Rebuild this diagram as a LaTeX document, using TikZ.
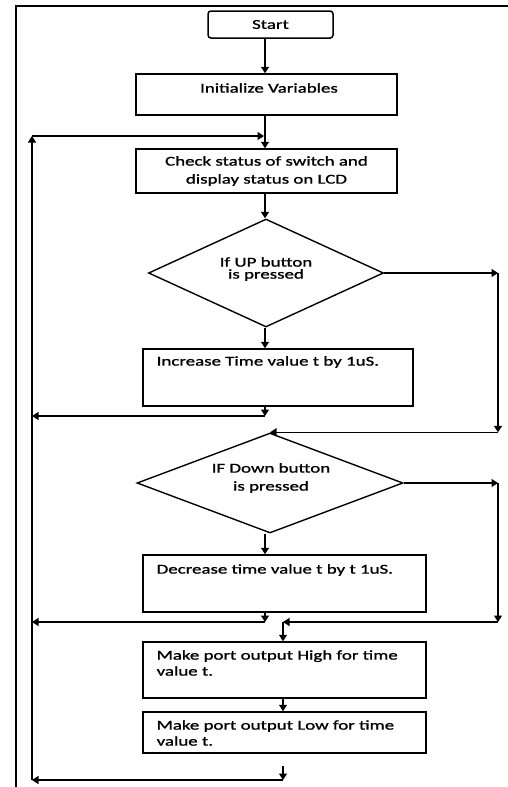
\documentclass[tikz,border=0pt]{standalone}
\usepackage{fontspec}
\setmainfont{Carlito}[FakeStretch=1.40,FakeBold=1.2]
\usetikzlibrary{arrows.meta,shapes.geometric}
\begin{document}
\begin{tikzpicture}[x=1pt,y=-1pt,
  line width=1.4pt,
  >={Triangle[length=6.5pt,width=8pt]},
  box/.style={draw, rectangle, inner sep=0pt, line width=1.5pt},
  dia/.style={draw, diamond, inner sep=0pt, aspect=2.2, line width=1.4pt},
  txt/.style={font=\fontsize{13.5}{18}\selectfont, inner sep=0pt, align=center},
  ltxt/.style={font=\fontsize{13.5}{16}\selectfont, inner sep=0pt, align=left, anchor=west},
  flow/.style={->, line width=1.4pt}]
\useasboundingbox (0,0) rectangle (508,787);
\draw[line width=1.8pt] (16,787) -- (16,6) -- (508,6);

\coordinate (spine) at (265,0);
\coordinate (rail) at (498,0);

\node[box, rounded corners=3pt, minimum width=125pt, minimum height=27pt, txt] (start) at (270.5,24.5) {Start};
\node[box, minimum width=261pt, minimum height=41pt] (init) at (266.5,94.5) {};
\node[txt] (initT) at (269,88) {Initialize Variables};
\node[box, minimum width=261pt, minimum height=44pt, txt] (check) at (266.5,171) {Check status of switch and\\display status on LCD};
\node[dia, minimum width=235pt, minimum height=108pt] (d1) at (266,273) {};
\node[txt, font=\fontsize{13.5}{12}\selectfont] (d1T) at (266,269) {If UP button\\is pressed};
\node[box, minimum width=270pt, minimum height=57pt] (inc) at (278,377.5) {};
\node[ltxt] (incT) at (156,362) {Increase Time value t by 1uS.};
\node[dia, minimum width=266pt, minimum height=100pt] (d2) at (270,483) {};
\node[txt] (d2T) at (271,478) {IF Down button\\is pressed};
\node[box, minimum width=283pt, minimum height=57pt] (dec) at (284.5,583.5) {};
\node[ltxt] (decT) at (156,570) {Decrease time value t by t 1uS.};
\node[box, minimum width=283pt, minimum height=56pt] (high) at (284.5,670) {};
\node[ltxt] (highT) at (156,663) {Make port output High for time\\value t.};
\node[box, minimum width=283pt, minimum height=41pt] (low) at (284.5,732.5) {};
\node[ltxt] (lowT) at (156,733) {Make port output Low for time\\value t.};

\coordinate (loopL) at (32,136);
\coordinate (bot) at (32,780);
\coordinate (j1) at (265,416);
\coordinate (j2) at (283,622);
\coordinate (j3) at (265,622);
\coordinate (j4) at (283,780);
\coordinate (stub) at (283,766);

\draw[flow] (start.south -| spine) -- (init.north -| spine);
\draw[flow] (init.south -| spine) -- (check.north -| spine);
\draw[flow] (bot) -- (loopL);
\draw[flow] (loopL) -- ([xshift=-1pt]loopL -| spine);
\draw[flow] (check.south -| spine) -- (d1.north -| spine);

\draw[flow] (d1.east) -- (d1.east -| rail);
\draw[flow] (d1.east -| rail) -- (rail |- d2.north);
\draw[flow] (rail |- d2.north) -- (d2.north);
\draw[flow] (d1.south -| spine) -- (inc.north -| spine);
\draw[flow] (inc.south -| spine) -- (j1);
\draw[flow] (j1) -- (j1 -| bot);

\draw[flow] (d2.east) -- (d2.east -| rail);
\draw[flow] (d2.east -| rail) -- (rail |- j2);
\draw[flow] (rail |- j2) -- (j2);
\draw[flow] (j2) -- (high.north -| j2);
\draw[flow] (d2.south -| spine) -- (dec.north -| spine);
\draw[flow] (dec.south -| spine) -- (j3);
\draw[flow] (j3) -- (j3 -| bot);

\draw[flow] (high.south -| j2) -- (low.north -| j2);
\draw[flow] (stub) -- (j4);
\draw[flow] (j4) -- (j4 -| bot);
\end{tikzpicture}
\end{document}
